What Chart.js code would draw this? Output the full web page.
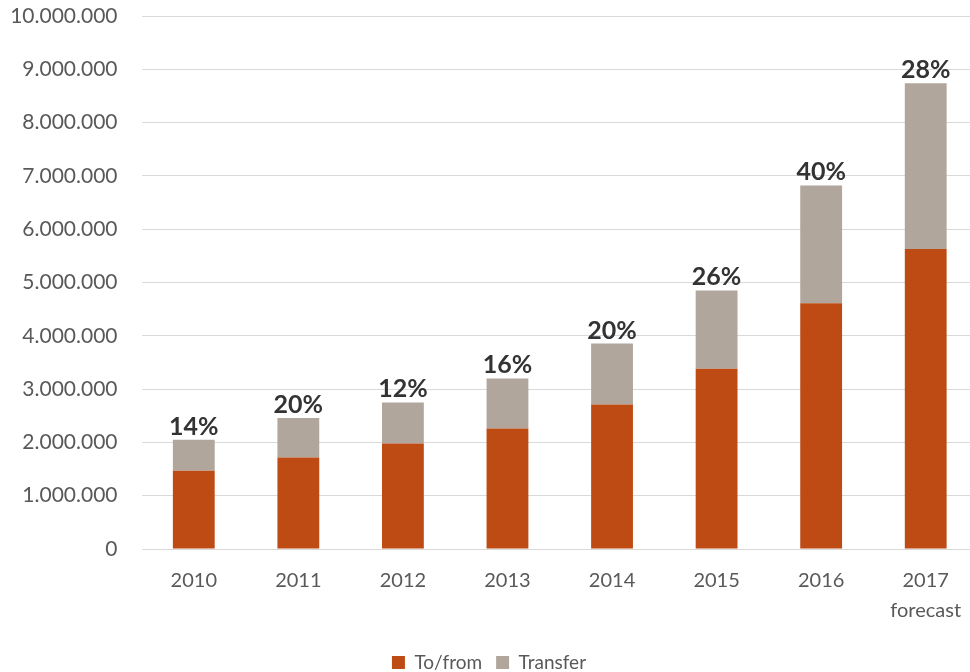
<!DOCTYPE html>
<html>
<head>
<meta charset="utf-8">
<script src="https://cdn.jsdelivr.net/npm/chart.js@4"></script>
<style>
  html, body { margin: 0; padding: 0; background: #fff; overflow: hidden; }
  #wrap { position: absolute; left: 0; top: 0; width: 978px; height: 682px; }
</style>
</head>
<body>
<div id="wrap"><canvas id="chart"></canvas></div>
<script>
const years = ['2010', '2011', '2012', '2013', '2014', '2015', '2016', ['2017', 'forecast']];
const toFrom = [1470000, 1715000, 1980000, 2260000, 2710000, 3380000, 4610000, 5630000];
const transfer = [580000, 745000, 770000, 940000, 1145000, 1470000, 2210000, 3110000];
const shareLabels = ['14%', '20%', '12%', '16%', '20%', '26%', '40%', '28%'];
const yTicks = [0, 1000000, 2000000, 3000000, 4000000, 5000000, 6000000, 7000000, 8000000, 9000000, 10000000];

const fontFamily = 'Lato, "Open Sans", sans-serif';

function dotted(v) {
    return String(v).replace(/\B(?=(\d{3})+(?!\d))/g, '.');
}

// percentage labels above each stacked bar
const topLabels = {
    id: 'topLabels',
    afterDatasetsDraw(chart) {
        const meta = chart.getDatasetMeta(1);
        const ctx = chart.ctx;
        ctx.save();
        ctx.font = 'bold 25px ' + fontFamily;
        ctx.fillStyle = '#333333';
        ctx.textAlign = 'center';
        ctx.textBaseline = 'alphabetic';
        meta.data.forEach((bar, i) => {
            ctx.fillText(shareLabels[i], bar.x, bar.y - 5);
        });
        ctx.restore();
    }
};

new Chart(document.getElementById('chart'), {
    type: 'bar',
    data: {
        labels: years,
        datasets: [
            { label: 'To/from', data: toFrom, backgroundColor: '#BE4B14', borderWidth: 0 },
            { label: 'Transfer', data: transfer, backgroundColor: '#B0A69B', borderWidth: 0 }
        ]
    },
    options: {
        responsive: true,
        maintainAspectRatio: false,
        animation: false,
        categoryPercentage: 0.4,
        barPercentage: 1,
        layout: { padding: { top: 16, right: 0, bottom: 0, left: 0 } },
        plugins: {
            legend: {
                position: 'bottom',
                labels: {
                    boxWidth: 13, boxHeight: 13, padding: 14,
                    color: '#595959', font: { family: fontFamily, size: 19 }
                }
            },
            tooltip: { enabled: false }
        },
        scales: {
            x: {
                stacked: true,
                afterFit(scale) { scale.height += 4; },
                grid: { display: false },
                border: { display: false },
                ticks: {
                    color: '#595959', padding: 9, maxRotation: 0, autoSkip: false,
                    font: { family: fontFamily, size: 20, lineHeight: 1.5 }
                }
            },
            y: {
                stacked: true,
                min: 0, max: 10000000,
                afterFit(scale) {
                    scale.width = 141.5;
                    scale.paddingTop = 0;
                    scale.paddingBottom = 0;
                },
                afterBuildTicks(scale) { scale.ticks = yTicks.map(v => ({ value: v })); },
                grid: { color: '#D9D9D9', lineWidth: 1, drawTicks: false },
                border: { display: false },
                ticks: {
                    color: '#595959', padding: 24,
                    font: { family: fontFamily, size: 21 },
                    callback: v => dotted(v)
                }
            }
        }
    },
    plugins: [topLabels]
});
</script>
</body>
</html>
